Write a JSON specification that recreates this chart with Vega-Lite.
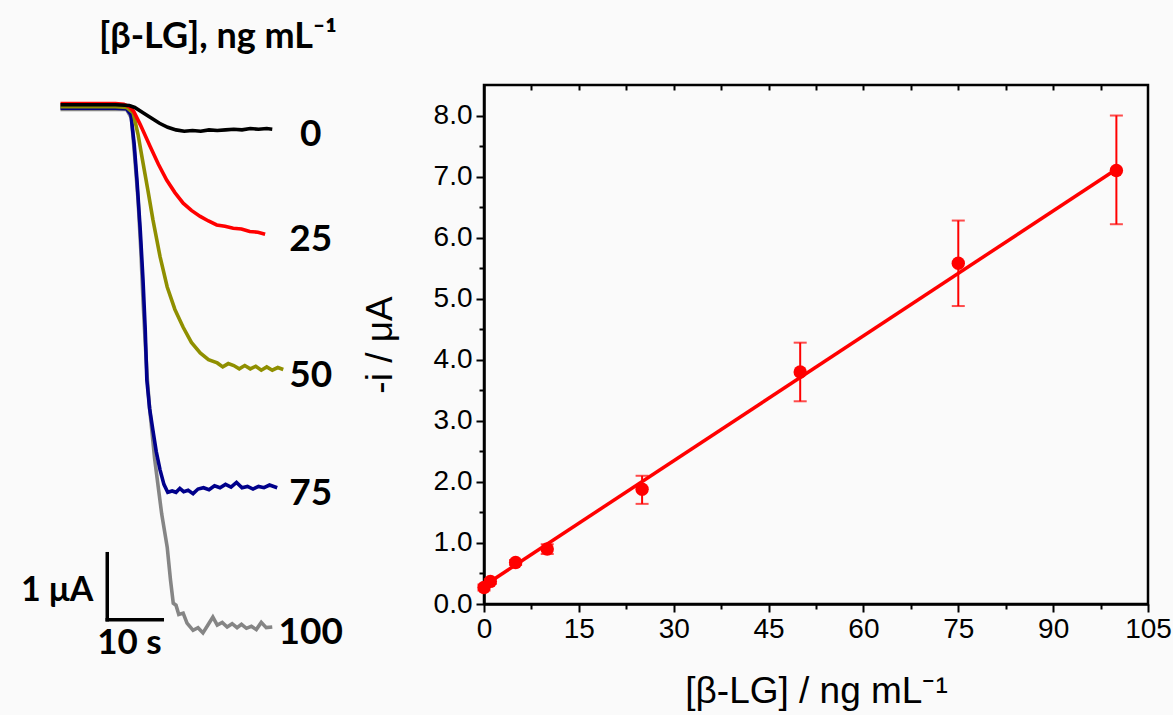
{
  "$schema": "https://vega.github.io/schema/vega-lite/v6.json",
  "background": "#fafafa",
  "padding": {"left": 0, "top": 19, "right": 0, "bottom": 4},
  "spacing": 124,
  "bounds": "flush",
  "config": {"view": {"stroke": null}, "font": "Liberation Sans"},
  "datasets": {
    "traces": [
      {"conc": "100", "t": 0, "i": -0.07}, {"conc": "100", "t": 5, "i": -0.07}, {"conc": "100", "t": 10, "i": -0.07}, {"conc": "100", "t": 12.0, "i": -0.07},
      {"conc": "100", "t": 12.9, "i": -0.2}, {"conc": "100", "t": 13.5, "i": -0.8}, {"conc": "100", "t": 14.1, "i": -1.44}, {"conc": "100", "t": 14.6, "i": -2.2},
      {"conc": "100", "t": 15.0, "i": -2.96}, {"conc": "100", "t": 15.4, "i": -3.6}, {"conc": "100", "t": 15.8, "i": -4.17}, {"conc": "100", "t": 16.2, "i": -4.6},
      {"conc": "100", "t": 16.6, "i": -4.93}, {"conc": "100", "t": 17.1, "i": -5.35}, {"conc": "100", "t": 17.6, "i": -5.68}, {"conc": "100", "t": 18.4, "i": -6.2},
      {"conc": "100", "t": 19.4, "i": -6.7}, {"conc": "100", "t": 20.0, "i": -7.2}, {"conc": "100", "t": 20.5, "i": -7.55}, {"conc": "100", "t": 21.0, "i": -7.58},
      {"conc": "100", "t": 21.5, "i": -7.72}, {"conc": "100", "t": 22.3, "i": -7.7}, {"conc": "100", "t": 23.0, "i": -7.85}, {"conc": "100", "t": 24.1, "i": -7.96},
      {"conc": "100", "t": 25.0, "i": -7.92}, {"conc": "100", "t": 25.9, "i": -8.0}, {"conc": "100", "t": 26.8, "i": -7.88}, {"conc": "100", "t": 27.7, "i": -7.76},
      {"conc": "100", "t": 28.5, "i": -7.88}, {"conc": "100", "t": 29.4, "i": -7.84}, {"conc": "100", "t": 30.3, "i": -7.91}, {"conc": "100", "t": 31.2, "i": -7.86},
      {"conc": "100", "t": 32.1, "i": -7.92}, {"conc": "100", "t": 32.9, "i": -7.87}, {"conc": "100", "t": 33.8, "i": -7.93}, {"conc": "100", "t": 34.7, "i": -7.9},
      {"conc": "100", "t": 35.6, "i": -7.95}, {"conc": "100", "t": 36.5, "i": -7.84}, {"conc": "100", "t": 37.4, "i": -7.92}, {"conc": "100", "t": 38.5, "i": -7.91},

      {"conc": "75", "t": 0, "i": -0.05}, {"conc": "75", "t": 5, "i": -0.05}, {"conc": "75", "t": 10, "i": -0.05}, {"conc": "75", "t": 12.0, "i": -0.06},
      {"conc": "75", "t": 12.8, "i": -0.15}, {"conc": "75", "t": 13.4, "i": -0.6}, {"conc": "75", "t": 13.9, "i": -1.14}, {"conc": "75", "t": 14.5, "i": -1.9},
      {"conc": "75", "t": 15.0, "i": -2.65}, {"conc": "75", "t": 15.4, "i": -3.4}, {"conc": "75", "t": 15.7, "i": -4.17}, {"conc": "75", "t": 16.2, "i": -4.6},
      {"conc": "75", "t": 16.8, "i": -4.93}, {"conc": "75", "t": 17.4, "i": -5.25}, {"conc": "75", "t": 18.1, "i": -5.53}, {"conc": "75", "t": 18.8, "i": -5.75},
      {"conc": "75", "t": 19.5, "i": -5.87}, {"conc": "75", "t": 20.3, "i": -5.85}, {"conc": "75", "t": 21.0, "i": -5.87}, {"conc": "75", "t": 21.7, "i": -5.81},
      {"conc": "75", "t": 22.4, "i": -5.86}, {"conc": "75", "t": 23.2, "i": -5.84}, {"conc": "75", "t": 24.1, "i": -5.89}, {"conc": "75", "t": 25.0, "i": -5.82},
      {"conc": "75", "t": 26.0, "i": -5.8}, {"conc": "75", "t": 27.0, "i": -5.83}, {"conc": "75", "t": 28.0, "i": -5.77}, {"conc": "75", "t": 29.0, "i": -5.8},
      {"conc": "75", "t": 30.0, "i": -5.75}, {"conc": "75", "t": 31.0, "i": -5.79}, {"conc": "75", "t": 32.0, "i": -5.72}, {"conc": "75", "t": 33.0, "i": -5.8},
      {"conc": "75", "t": 34.0, "i": -5.78}, {"conc": "75", "t": 35.0, "i": -5.82}, {"conc": "75", "t": 36.0, "i": -5.78}, {"conc": "75", "t": 37.0, "i": -5.8},
      {"conc": "75", "t": 38.0, "i": -5.76}, {"conc": "75", "t": 39.4, "i": -5.8},

      {"conc": "50", "t": 0, "i": -0.03}, {"conc": "50", "t": 5, "i": -0.03}, {"conc": "50", "t": 10, "i": -0.03}, {"conc": "50", "t": 12.0, "i": -0.04},
      {"conc": "50", "t": 13.2, "i": -0.12}, {"conc": "50", "t": 14.1, "i": -0.45}, {"conc": "50", "t": 15.0, "i": -0.88}, {"conc": "50", "t": 15.9, "i": -1.3},
      {"conc": "50", "t": 16.8, "i": -1.74}, {"conc": "50", "t": 18.1, "i": -2.3}, {"conc": "50", "t": 19.4, "i": -2.76}, {"conc": "50", "t": 20.8, "i": -3.1},
      {"conc": "50", "t": 22.3, "i": -3.37}, {"conc": "50", "t": 23.8, "i": -3.6}, {"conc": "50", "t": 25.4, "i": -3.76}, {"conc": "50", "t": 26.9, "i": -3.86},
      {"conc": "50", "t": 28.5, "i": -3.91}, {"conc": "50", "t": 29.5, "i": -3.97}, {"conc": "50", "t": 30.5, "i": -3.92}, {"conc": "50", "t": 31.5, "i": -3.95},
      {"conc": "50", "t": 32.5, "i": -4.0}, {"conc": "50", "t": 33.5, "i": -3.95}, {"conc": "50", "t": 34.5, "i": -4.0}, {"conc": "50", "t": 35.5, "i": -3.96},
      {"conc": "50", "t": 36.5, "i": -4.02}, {"conc": "50", "t": 37.5, "i": -3.97}, {"conc": "50", "t": 38.5, "i": -4.02}, {"conc": "50", "t": 39.5, "i": -3.98},
      {"conc": "50", "t": 40.5, "i": -4.01},

      {"conc": "25", "t": 0, "i": 0.02}, {"conc": "25", "t": 5, "i": 0.02}, {"conc": "25", "t": 10, "i": 0.02}, {"conc": "25", "t": 11.5, "i": 0.01},
      {"conc": "25", "t": 12.5, "i": -0.03}, {"conc": "25", "t": 13.3, "i": -0.1}, {"conc": "25", "t": 14.5, "i": -0.3}, {"conc": "25", "t": 16.3, "i": -0.63},
      {"conc": "25", "t": 17.8, "i": -0.9}, {"conc": "25", "t": 19.3, "i": -1.14}, {"conc": "25", "t": 20.8, "i": -1.33}, {"conc": "25", "t": 22.3, "i": -1.49},
      {"conc": "25", "t": 23.8, "i": -1.6}, {"conc": "25", "t": 25.4, "i": -1.69}, {"conc": "25", "t": 26.9, "i": -1.76}, {"conc": "25", "t": 28.4, "i": -1.82},
      {"conc": "25", "t": 29.9, "i": -1.84}, {"conc": "25", "t": 31.4, "i": -1.87}, {"conc": "25", "t": 32.9, "i": -1.88}, {"conc": "25", "t": 34.4, "i": -1.92},
      {"conc": "25", "t": 35.9, "i": -1.93}, {"conc": "25", "t": 37.2, "i": -1.96},

      {"conc": "0", "t": 0, "i": 0.0}, {"conc": "0", "t": 5, "i": 0.0}, {"conc": "0", "t": 10, "i": 0.0}, {"conc": "0", "t": 12.5, "i": -0.01},
      {"conc": "0", "t": 13.5, "i": -0.04}, {"conc": "0", "t": 15, "i": -0.12}, {"conc": "0", "t": 16.5, "i": -0.2}, {"conc": "0", "t": 18, "i": -0.28},
      {"conc": "0", "t": 19.5, "i": -0.34}, {"conc": "0", "t": 21, "i": -0.38}, {"conc": "0", "t": 22.5, "i": -0.4}, {"conc": "0", "t": 24, "i": -0.39},
      {"conc": "0", "t": 25.5, "i": -0.4}, {"conc": "0", "t": 27, "i": -0.38}, {"conc": "0", "t": 28.5, "i": -0.39}, {"conc": "0", "t": 30, "i": -0.38},
      {"conc": "0", "t": 31.5, "i": -0.37}, {"conc": "0", "t": 33, "i": -0.38}, {"conc": "0", "t": 34.5, "i": -0.36}, {"conc": "0", "t": 36, "i": -0.37},
      {"conc": "0", "t": 37.5, "i": -0.36}, {"conc": "0", "t": 38.5, "i": -0.37}
    ],
    "scalebar": [
      {"part": "current", "t1": 8.5, "t2": 8.5, "i1": -6.8, "i2": -7.8, "label": "1 μA"},
      {"part": "time", "t1": 8.5, "t2": 18.5, "i1": -7.8, "i2": -7.8, "label": "10 s"}
    ],
    "calib": [
      {"conc": 0, "i": 0.27, "lo": 0.22, "hi": 0.32},
      {"conc": 1, "i": 0.37, "lo": 0.33, "hi": 0.41},
      {"conc": 5, "i": 0.68, "lo": 0.64, "hi": 0.72},
      {"conc": 10, "i": 0.9, "lo": 0.82, "hi": 0.98},
      {"conc": 25, "i": 1.88, "lo": 1.64, "hi": 2.1},
      {"conc": 50, "i": 3.8, "lo": 3.32, "hi": 4.28},
      {"conc": 75, "i": 5.58, "lo": 4.88, "hi": 6.28},
      {"conc": 100, "i": 7.1, "lo": 6.22, "hi": 8.0}
    ],
    "fit": [
      {"conc": 0, "i": 0.3},
      {"conc": 100, "i": 7.12}
    ]
  },
  "hconcat": [
    {
      "width": 360,
      "height": 575,
      "title": {"text": "[β-LG], ng mL⁻¹", "font": "Lato", "fontWeight": "bold", "fontSize": 36, "color": "black", "anchor": "middle", "dx": 38, "offset": 29},
      "layer": [
        {
          "data": {"name": "traces"},
          "mark": {"type": "line", "strokeWidth": 3.6},
          "encoding": {
            "x": {"field": "t", "type": "quantitative", "scale": {"domain": [-11, 54.45], "nice": false, "zero": false}, "axis": null},
            "y": {"field": "i", "type": "quantitative", "scale": {"domain": [-8.41, 0.3], "nice": false, "zero": false}, "axis": null},
            "color": {"field": "conc", "type": "nominal", "scale": {"domain": ["100", "75", "50", "25", "0"], "range": ["#858585", "#00008b", "#8f8f00", "#ff0000", "#000000"]}, "legend": null}
          }
        },
        {
          "data": {"name": "traces"},
          "transform": [{"aggregate": [{"op": "argmax", "field": "t", "as": "last"}], "groupby": ["conc"]}],
          "mark": {"type": "text", "font": "Lato", "fontWeight": "bold", "fontSize": 37, "align": "center", "baseline": "middle", "dy": 6, "color": "black"},
          "encoding": {
            "x": {"datum": 45.5, "type": "quantitative"},
            "y": {"field": "last.i", "type": "quantitative"},
            "text": {"field": "conc"}
          }
        },
        {
          "data": {"name": "scalebar"},
          "mark": {"type": "rule", "strokeWidth": 3.5, "color": "black", "strokeCap": "square"},
          "encoding": {
            "x": {"field": "t1", "type": "quantitative"},
            "x2": {"field": "t2"},
            "y": {"field": "i1", "type": "quantitative"},
            "y2": {"field": "i2"}
          }
        },
        {
          "data": {"name": "scalebar"},
          "transform": [{"filter": "datum.part == 'current'"}],
          "mark": {"type": "text", "font": "Lato", "fontWeight": "bold", "fontSize": 34, "align": "right", "baseline": "bottom", "dx": -14, "dy": -12, "color": "black"},
          "encoding": {
            "x": {"field": "t1", "type": "quantitative"},
            "y": {"field": "i2", "type": "quantitative"},
            "text": {"field": "label"}
          }
        },
        {
          "data": {"name": "scalebar"},
          "transform": [{"filter": "datum.part == 'time'"}],
          "mark": {"type": "text", "font": "Lato", "fontWeight": "bold", "fontSize": 35, "align": "left", "baseline": "top", "dx": -10, "dy": 6, "color": "black"},
          "encoding": {
            "x": {"field": "t1", "type": "quantitative"},
            "y": {"field": "i2", "type": "quantitative"},
            "text": {"field": "label"}
          }
        }
      ]
    },
    {
      "width": 664,
      "height": 519,
      "view": {"stroke": "black", "strokeWidth": 2.5},
      "resolve": {"axis": {"x": "independent", "y": "independent"}},
      "layer": [
        {
          "data": {"name": "fit"},
          "mark": {"type": "line", "color": "#ff0000", "strokeWidth": 3.5},
          "encoding": {
            "x": {"field": "conc", "type": "quantitative", "scale": {"domain": [0, 105], "nice": false},
              "axis": {"orient": "bottom", "values": [0, 15, 30, 45, 60, 75, 90, 105], "tickSize": 8, "tickWidth": 2, "tickColor": "black", "domainColor": "black", "domainWidth": 2.5, "labelFont": "Liberation Sans", "labelFontSize": 28, "labelColor": "black", "labelPadding": 3, "labelFlush": false, "grid": false,
                "title": "[β-LG] / ng mL⁻¹", "titleFont": "Liberation Sans", "titleFontSize": 37, "titleFontWeight": "normal", "titleColor": "black", "titlePadding": 30}},
            "y": {"field": "i", "type": "quantitative", "scale": {"domain": [0, 8.5], "nice": false},
              "axis": {"orient": "left", "values": [0, 1, 2, 3, 4, 5, 6, 7, 8], "format": ".1f", "tickSize": 8, "tickWidth": 2, "tickColor": "black", "domainColor": "black", "domainWidth": 2.5, "labelFont": "Liberation Sans", "labelFontSize": 28, "labelColor": "black", "labelPadding": 4, "labelFlush": false, "grid": false,
                "title": "-i / μA", "titleFont": "Liberation Sans", "titleFontSize": 37, "titleFontWeight": "normal", "titleColor": "black", "titlePadding": 34}}
          }
        },
        {
          "data": {"name": "calib"},
          "mark": {"type": "rule", "color": "#ff0000", "strokeWidth": 2},
          "encoding": {
            "x": {"field": "conc", "type": "quantitative",
              "axis": {"orient": "bottom", "values": [7.5, 22.5, 37.5, 52.5, 67.5, 82.5, 97.5], "tickSize": 5, "tickWidth": 2, "tickColor": "black", "domain": false, "labels": false, "title": null, "grid": false}},
            "y": {"field": "lo", "type": "quantitative",
              "axis": {"orient": "left", "values": [0.5, 1.5, 2.5, 3.5, 4.5, 5.5, 6.5, 7.5], "tickSize": 5, "tickWidth": 2, "tickColor": "black", "domain": false, "labels": false, "title": null, "grid": false}},
            "y2": {"field": "hi"}
          }
        },
        {
          "data": {"name": "calib"},
          "mark": {"type": "tick", "orient": "horizontal", "color": "#ff0000", "size": 13, "thickness": 2},
          "encoding": {
            "x": {"field": "conc", "type": "quantitative", "axis": null},
            "y": {"field": "hi", "type": "quantitative", "axis": null}
          }
        },
        {
          "data": {"name": "calib"},
          "mark": {"type": "tick", "orient": "horizontal", "color": "#ff0000", "size": 13, "thickness": 2},
          "encoding": {
            "x": {"field": "conc", "type": "quantitative", "axis": null},
            "y": {"field": "lo", "type": "quantitative", "axis": null}
          }
        },
        {
          "data": {"name": "calib"},
          "mark": {"type": "circle", "color": "#ff0000", "opacity": 1, "size": 180},
          "encoding": {
            "x": {"field": "conc", "type": "quantitative",
              "axis": {"orient": "top", "values": [7.5, 15, 22.5, 30, 37.5, 45, 52.5, 60, 67.5, 75, 82.5, 90, 97.5], "tickSize": -5, "tickWidth": 2, "tickColor": "black", "domain": false, "labels": false, "title": null, "grid": false}},
            "y": {"field": "i", "type": "quantitative", "axis": null}
          }
        }
      ]
    }
  ]
}
